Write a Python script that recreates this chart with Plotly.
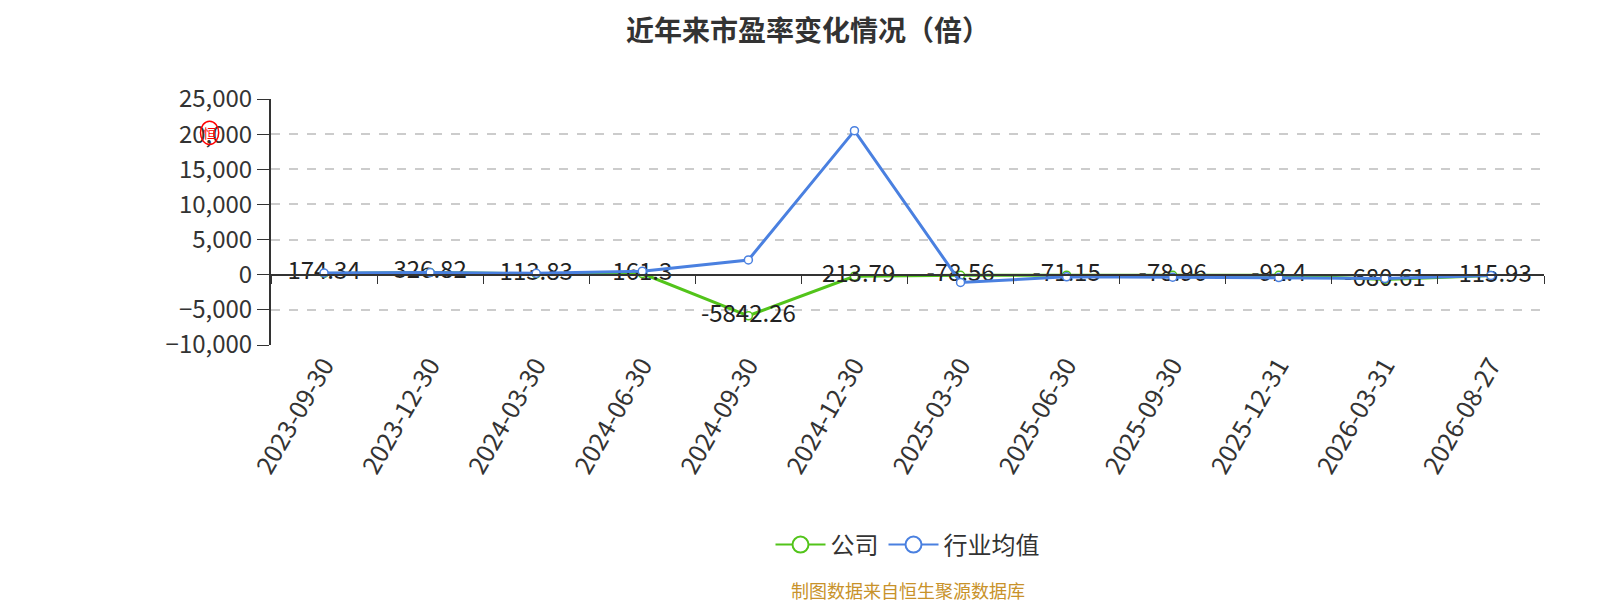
import plotly.graph_objects as go

dates = ['2023-09-30', '2023-12-30', '2024-03-30', '2024-06-30', '2024-09-30', '2024-12-30',
         '2025-03-30', '2025-06-30', '2025-09-30', '2025-12-31', '2026-03-31', '2026-08-27']
company = [174.34, 326.82, 113.83, 161.3, -5842.26, -213.79,
           -78.56, -71.15, -78.96, -92.4, -680.61, -115.93]
industry = [250, 300, 200, 500, 2100, 20500, -1100, -300, -350, -400, -550, -100]
y_ticks = [-10000, -5000, 0, 5000, 10000, 15000, 20000, 25000]

FONT = 'Noto Sans CJK SC'
GREEN = '#52c41a'
BLUE = '#4a80e0'

fig = go.Figure()

# 公司：带数据标签
fig.add_trace(go.Scatter(
    x=dates, y=company, name='公司', mode='lines+markers+text', showlegend=False,
    line=dict(color=GREEN, width=3),
    marker=dict(size=8, color='white', line=dict(color=GREEN, width=1.5)),
    text=[f'{v:g}' for v in company], textposition='middle center',
    textfont=dict(size=24, color='#222', family=FONT), cliponaxis=False))

fig.add_trace(go.Scatter(
    x=dates, y=industry, name='行业均值', mode='lines+markers', showlegend=False,
    line=dict(color=BLUE, width=3),
    marker=dict(size=8, color='white', line=dict(color=BLUE, width=1.5)),
    cliponaxis=False))

# 图例用的空序列（大空心圆）
for name, color in [('公司', GREEN), ('行业均值', BLUE)]:
    fig.add_trace(go.Scatter(x=[dates[0]], y=[None], name=name, mode='lines+markers',
                             line=dict(color=color, width=2),
                             marker=dict(size=16, color='white', line=dict(color=color, width=2))))

# 零线上的刻度轴
fig.add_trace(go.Scatter(x=dates, y=[None] * len(dates), xaxis='x2',
                         showlegend=False, hoverinfo='skip'))

fig.update_layout(
    width=1600, height=600,
    plot_bgcolor='white', paper_bgcolor='white',
    margin=dict(l=263, r=64, t=91, b=263),
    font=dict(family=FONT, color='#333'),
    title=dict(text='<b>近年来市盈率变化情况（倍）</b>', x=0.5, xanchor='center',
               y=0.962, yanchor='middle', font=dict(size=28, color='#333', family=FONT)),
    legend=dict(orientation='h', x=0.5, xanchor='center', y=-0.813, yanchor='middle',
                font=dict(size=24, color='#333', family=FONT), itemwidth=50),
    xaxis=dict(type='category', categoryarray=dates, range=[-0.5, 11.5],
               showline=False, showgrid=False, zeroline=False, ticks='',
               tickangle=-60, tickfont=dict(size=25, color='#333', family=FONT)),
    xaxis2=dict(type='category', categoryarray=dates, range=[-0.5, 11.5],
                overlaying='x', anchor='free', position=10000 / 35000,
                showline=True, linecolor='#333', linewidth=2,
                ticks='outside', tickson='boundaries', ticklen=8, tickcolor='#333',
                showticklabels=False, showgrid=False, zeroline=False),
    yaxis=dict(range=[-10000, 25000], tickvals=y_ticks, tickformat=',',
               showline=True, linecolor='#333', linewidth=2,
               ticks='outside', ticklen=12, tickcolor='#333',
               showgrid=True, gridcolor='#ccc', griddash='dash', gridwidth=1.5,
               zeroline=False, tickfont=dict(size=24, color='#333', family=FONT)),
)

fig.add_annotation(text='制图数据来自恒生聚源数据库', xref='paper', yref='paper',
                   x=0.5, y=-0.995, xanchor='center', yanchor='middle', showarrow=False,
                   font=dict(size=18, color='#c8922a', family=FONT))

# 红色小印记
fig.add_shape(type='circle', xref='paper', yref='paper',
              x0=-0.0554, x1=-0.0411, y0=0.815, y1=0.91,
              line=dict(color='red', width=1.5))
fig.add_annotation(text='恒', xref='paper', yref='paper', x=-0.0482, y=0.863,
                   xanchor='center', yanchor='middle',
                   showarrow=False, font=dict(size=13, color='red', family=FONT))

fig.write_html('out.html')
